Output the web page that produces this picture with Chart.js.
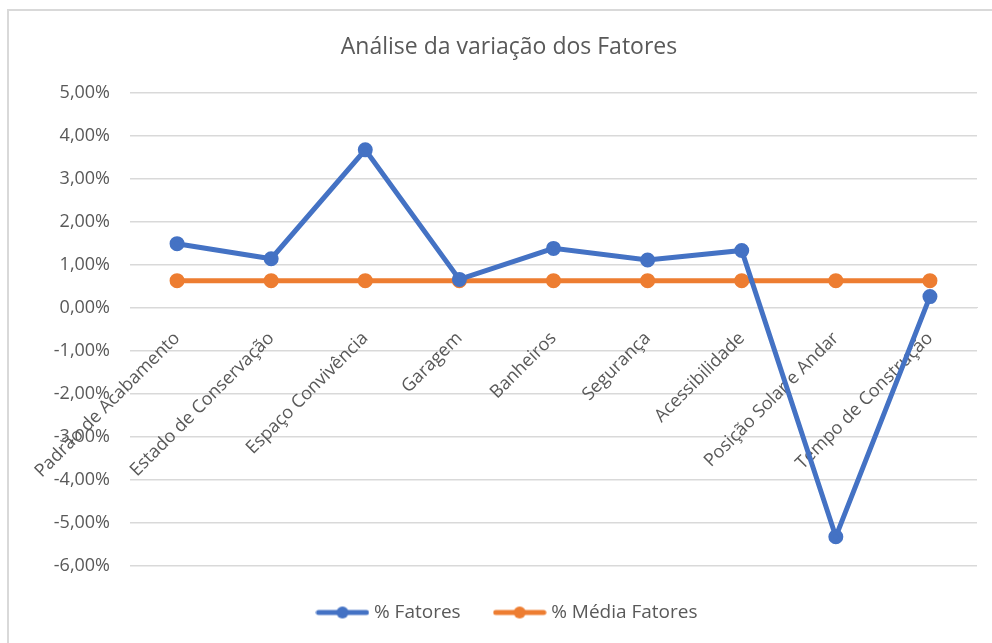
<!DOCTYPE html>
<html>
<head>
<meta charset="utf-8">
<script src="https://cdn.jsdelivr.net/npm/chart.js@4.4.0/dist/chart.umd.min.js"></script>
<style>
  html, body { margin: 0; padding: 0; background: #fff; }
  #wrap {
    position: absolute; left: 7px; top: 9px;
    width: 985px; height: 634px;
    border-top: 2px solid #d9d9d9; border-left: 2px solid #d9d9d9;
  }
  #chart { display: block; }
</style>
</head>
<body>
<div id="wrap"><canvas id="chart" width="983" height="632"></canvas></div>
<script>
const categories = ['Padrão de Acabamento', 'Estado de Conservação', 'Espaço Convivência', 'Garagem',
  'Banheiros', 'Segurança', 'Acessibilidade', 'Posição Solar e Andar', 'Tempo de Construção'];
const fatores = [1.49, 1.14, 3.67, 0.66, 1.38, 1.11, 1.33, -5.32, 0.26];
const mediaFatores = [0.63, 0.63, 0.63, 0.63, 0.63, 0.63, 0.63, 0.63, 0.63];
const yMin = -6, yMax = 5, yStep = 1;

const blue = '#4472C4', orange = '#ED7D31';
const FONT = '"Open Sans", sans-serif';

// little line-with-dot marker for the legend, like Excel
function legendMarker(color) {
  const c = document.createElement('canvas');
  c.width = 54; c.height = 14;
  const g = c.getContext('2d');
  g.strokeStyle = color; g.lineWidth = 5; g.lineCap = 'round';
  g.beginPath(); g.moveTo(3, 7); g.lineTo(51, 7); g.stroke();
  g.fillStyle = color;
  g.beginPath(); g.arc(27, 7, 6, 0, Math.PI * 2); g.fill();
  return c;
}
const markers = [legendMarker(blue), legendMarker(orange)];

const fmt = v => v.toFixed(2).replace('.', ',') + '%';

new Chart(document.getElementById('chart').getContext('2d'), {
  type: 'line',
  data: {
    labels: categories,
    datasets: [{
      label: '% Fatores',
      data: fatores,
      borderColor: blue,
      backgroundColor: blue,
      borderWidth: 5,
      pointRadius: 5,
      pointHoverRadius: 5,
      tension: 0
    }, {
      label: '% Média Fatores',
      data: mediaFatores,
      borderColor: orange,
      backgroundColor: orange,
      borderWidth: 5,
      pointRadius: 5,
      pointHoverRadius: 5,
      tension: 0
    }]
  },
  options: {
    responsive: false,
    animation: false,
    layout: { padding: { left: 32, right: 15, top: 13, bottom: 11 } },
    plugins: {
      title: {
        display: true,
        text: 'Análise da variação dos Fatores',
        color: '#595959',
        font: { family: FONT, size: 23, weight: 'normal' },
        padding: { top: 10, bottom: 31 }
      },
      legend: {
        position: 'bottom',
        labels: {
          color: '#595959',
          font: { family: FONT, size: 19 },
          usePointStyle: true,
          pointStyleWidth: 44,
          padding: 37,
          generateLabels: chart => {
            const items = Chart.defaults.plugins.legend.labels.generateLabels(chart);
            items.forEach((it, i) => { it.pointStyle = markers[i]; });
            return items;
          }
        }
      },
      tooltip: { enabled: false }
    },
    scales: {
      x: {
        offset: true,
        position: { y: 0 },
        grid: { display: false },
        border: { display: true, color: '#d9d9d9' },
        ticks: {
          color: '#595959',
          font: { family: FONT, size: 18 },
          minRotation: 45,
          maxRotation: 45,
          autoSkip: false,
          padding: 12
        }
      },
      y: {
        min: yMin,
        max: yMax,
        afterFit: s => { s.width = 89; },
        grid: { color: '#d9d9d9', lineWidth: 1.5, drawTicks: false },
        border: { display: false },
        ticks: {
          stepSize: yStep,
          padding: 20,
          color: '#595959',
          font: { family: FONT, size: 18 },
          callback: v => fmt(v)
        }
      }
    }
  }
});
</script>
</body>
</html>
